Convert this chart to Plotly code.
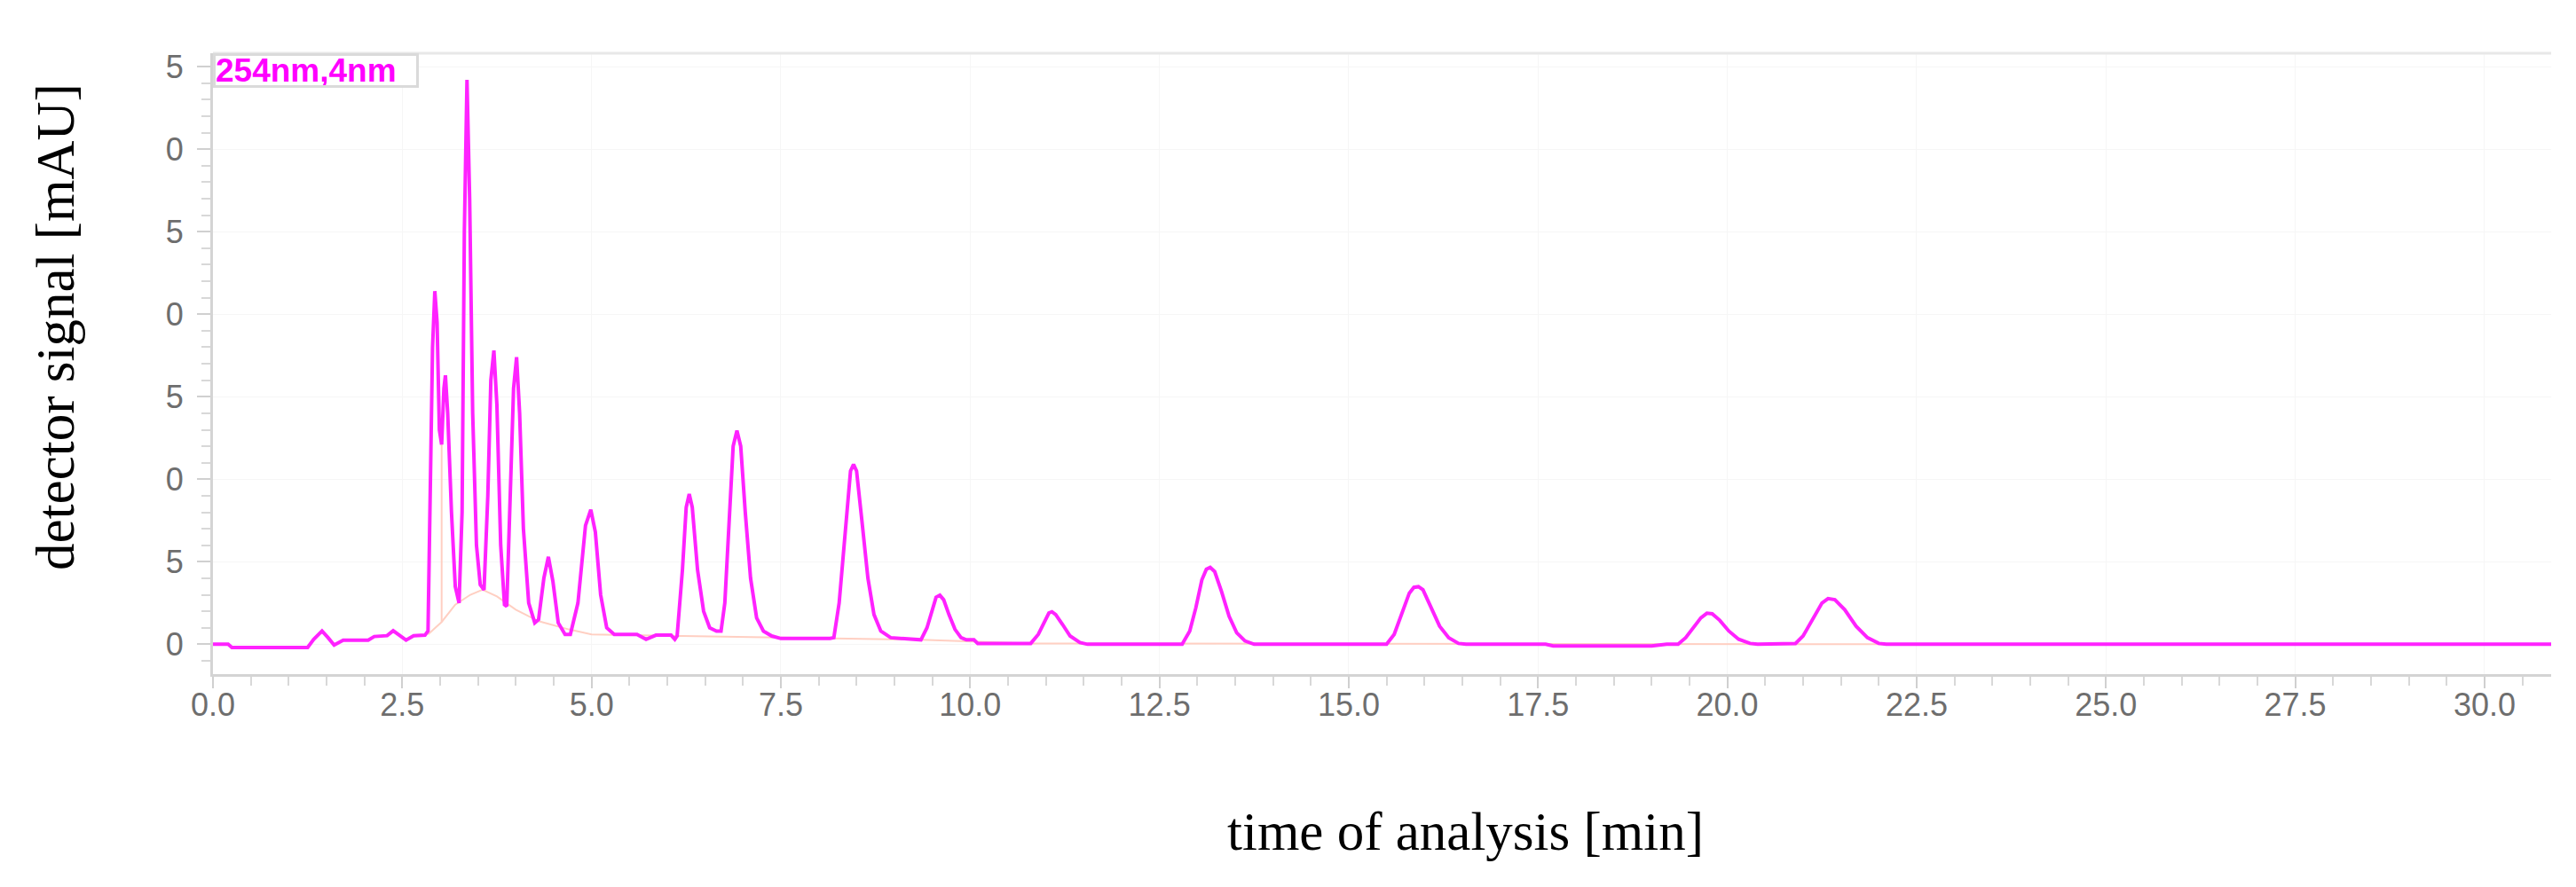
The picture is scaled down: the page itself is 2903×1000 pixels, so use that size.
import plotly.graph_objects as go

# ---- chromatogram trace (time [min], signal [mAU]) ----
time_min = [
    0.0, 0.2, 0.25, 1.25, 1.33, 1.44, 1.52, 1.6, 1.72, 2.05, 2.13, 2.3, 2.38, 2.47, 2.55, 2.65, 2.8,
    2.84, 2.87, 2.9, 2.93, 2.96, 2.99, 3.02, 3.05, 3.07, 3.1, 3.15, 3.2, 3.25,
    3.29, 3.32, 3.355, 3.39, 3.43, 3.48, 3.53, 3.58,
    3.63, 3.67, 3.71, 3.75, 3.8, 3.85, 3.88,
    3.93, 3.97, 4.01, 4.05, 4.1, 4.17, 4.25, 4.3,
    4.37, 4.43, 4.49, 4.56, 4.65, 4.72,
    4.82, 4.92, 4.99, 5.05, 5.12, 5.2, 5.3,
    5.6, 5.72, 5.85, 6.05, 6.1, 6.13,
    6.2, 6.25, 6.29, 6.33, 6.4, 6.48, 6.56, 6.65, 6.71,
    6.76, 6.82, 6.87, 6.92, 6.97, 7.03, 7.1, 7.18, 7.27, 7.38, 7.5, 8.15,
    8.2, 8.27, 8.35, 8.42, 8.46, 8.5, 8.57, 8.65, 8.73, 8.82, 8.95, 9.3,
    9.35, 9.43, 9.5, 9.55, 9.6, 9.65, 9.72, 9.8, 9.88, 9.95, 10.05, 10.1, 10.75,
    10.8, 10.9, 10.98, 11.04, 11.08, 11.13, 11.22, 11.32, 11.45, 11.55, 12.75,
    12.8, 12.9, 12.98, 13.06, 13.12, 13.17, 13.23, 13.32, 13.42, 13.52, 13.63, 13.75, 15.45,
    15.5, 15.6, 15.7, 15.8, 15.86, 15.92, 15.98, 16.08, 16.2, 16.32, 16.45, 16.55,
    17.6, 17.7, 19.0, 19.2,
    19.35, 19.45, 19.55, 19.65, 19.73, 19.8, 19.9, 20.02, 20.15, 20.3, 20.4, 20.85,
    20.9, 21.0, 21.12, 21.25, 21.33, 21.42, 21.55, 21.7, 21.85, 22.0, 22.1, 30.88,
]
signal_mau = [
    0.0, 0.0, -0.2, -0.2, 0.3, 0.8, 0.4, -0.05, 0.25, 0.25, 0.47, 0.52, 0.82, 0.55, 0.25, 0.52, 0.55,
    0.8, 8.0, 18.0, 21.4, 19.5, 13.0, 12.1, 15.5, 16.3, 14.0, 8.0, 3.5, 2.5,
    8.0, 25.0, 34.2, 27.0, 14.0, 6.0, 3.6, 3.3,
    9.0, 16.0, 17.8, 14.5, 6.0, 2.4, 2.3,
    9.0, 15.5, 17.4, 14.0, 7.0, 2.5, 1.3, 1.5,
    4.0, 5.3, 3.8, 1.3, 0.6, 0.6,
    2.5, 7.2, 8.15, 6.8, 3.0, 1.0, 0.6,
    0.6, 0.3, 0.55, 0.55, 0.3, 0.5,
    4.5, 8.3, 9.1, 8.3, 4.5, 2.0, 1.0, 0.8, 0.8,
    2.5, 8.0, 12.0, 12.95, 12.0, 8.0, 4.0, 1.6, 0.8, 0.5, 0.35, 0.35,
    0.4, 2.5, 7.0, 10.5, 10.9, 10.5, 7.5, 4.0, 1.8, 0.8, 0.4, 0.27,
    0.27, 1.0, 2.2, 2.85, 2.97, 2.7, 1.8, 0.9, 0.4, 0.27, 0.27, 0.05, 0.05,
    0.05, 0.6, 1.4, 1.9, 1.97, 1.8, 1.2, 0.5, 0.1, 0.0, 0.0,
    0.0, 0.8, 2.2, 3.9, 4.55, 4.66, 4.4, 3.2, 1.7, 0.7, 0.2, 0.0, 0.0,
    0.0, 0.6, 1.8, 3.1, 3.45, 3.49, 3.3, 2.3, 1.1, 0.4, 0.05, 0.0,
    0.0, -0.1, -0.1, 0.0,
    0.0, 0.4, 1.0, 1.6, 1.88, 1.85, 1.45, 0.8, 0.3, 0.05, 0.0, 0.0,
    0.05, 0.5, 1.5, 2.5, 2.77, 2.7, 2.1, 1.1, 0.4, 0.05, 0.0, 0.0,
]

# ---- integration baseline drawn under the peaks (faint salmon line) ----
baseline_time = [3.02, 3.02, None, 2.84, 3.02, 3.2, 3.4, 3.56, 3.75, 4.0, 4.3, 4.7, 5.0,
                 6.2, 9.0, 9.35, 10.8, 22.1]
baseline_mau = [12.1, 1.35, None, 0.6, 1.35, 2.4, 3.0, 3.3, 2.9, 2.1, 1.4, 0.9, 0.6,
                0.5, 0.3, 0.27, 0.05, 0.0]

y_tick_values = [0, 5, 10, 15, 20, 25, 30, 35]
y_tick_labels = ["0", "5", "0", "5", "0", "5", "0", "5"]
x_tick_values = [0, 2.5, 5, 7.5, 10, 12.5, 15, 17.5, 20, 22.5, 25, 27.5, 30]
x_tick_labels = ["0.0", "2.5", "5.0", "7.5", "10.0", "12.5", "15.0", "17.5",
                 "20.0", "22.5", "25.0", "27.5", "30.0"]

legend_text = "254nm,4nm"
x_title = "time of analysis [min]"
y_title = "detector signal [mAU]"

fig = go.Figure()
fig.add_trace(go.Scatter(x=baseline_time, y=baseline_mau, mode="lines",
                         line=dict(color="#ffcfc2", width=2), connectgaps=False,
                         hoverinfo="skip", showlegend=False))
fig.add_trace(go.Scatter(x=time_min, y=signal_mau, mode="lines",
                         line=dict(color="#ff22ff", width=4), showlegend=False))

tick_font = dict(family="Liberation Sans, Arial, sans-serif", size=36, color="#6e6e6e")
axis_common = dict(showline=True, linecolor="#d4d4d4", linewidth=3,
                   showgrid=True, gridcolor="#f6f6f6", gridwidth=1,
                   zeroline=False, ticks="outside", tickcolor="#d0d0d0",
                   tickwidth=2, tickfont=tick_font)

fig.update_layout(
    width=2903, height=1000,
    margin=dict(l=232, r=36, t=52, b=248),
    paper_bgcolor="white", plot_bgcolor="white",
    xaxis=dict(range=[0, 30.88], tickmode="array", tickvals=x_tick_values,
               ticktext=x_tick_labels, ticklen=13, ticklabelstandoff=-12,
               minor=dict(tickmode="linear", tick0=0, dtick=0.5, ticks="outside",
                          ticklen=10, tickcolor="#d8d8d8", tickwidth=2, showgrid=False),
               **axis_common),
    yaxis=dict(range=[-1.81, 35.82], tickmode="array", tickvals=y_tick_values,
               ticktext=y_tick_labels, ticklen=15, ticklabelstandoff=8,
               minor=dict(tickmode="linear", tick0=0, dtick=1, ticks="outside",
                          ticklen=10, tickcolor="#d8d8d8", tickwidth=2, showgrid=False),
               **axis_common),
    shapes=[dict(type="line", xref="paper", yref="paper", x0=0, x1=1, y0=1, y1=1,
                 line=dict(color="#e8e8e8", width=3))],
    annotations=[
        dict(text="<b>" + legend_text + "</b>", xref="paper", yref="paper", x=0, y=1,
             xanchor="left", yanchor="top", showarrow=False,
             font=dict(family="Liberation Sans, Arial, sans-serif", size=37, color="#ff00ff"),
             bgcolor="white", bordercolor="#dadada", borderwidth=3, borderpad=0,
             width=226, height=33, align="left", valign="middle"),
        dict(text=x_title, xref="paper", yref="paper", x=0.5355, y=-0.254,
             xanchor="center", yanchor="middle", showarrow=False,
             font=dict(family="Liberation Serif, Times New Roman, serif", size=61, color="black")),
        dict(text=y_title, xref="paper", yref="paper", x=-0.0672, y=0.56,
             xanchor="center", yanchor="middle", showarrow=False, textangle=-90,
             font=dict(family="Liberation Serif, Times New Roman, serif", size=61, color="black")),
    ],
)

fig.write_html("out.html")
